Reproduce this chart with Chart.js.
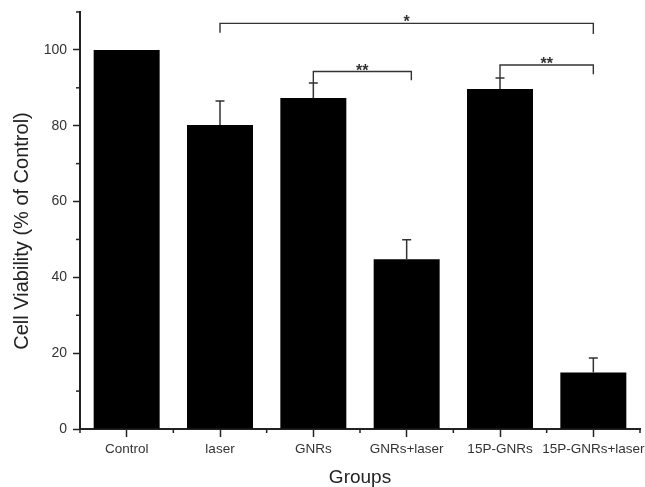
<!DOCTYPE html>
<html>
<head>
<meta charset="utf-8">
<script src="https://cdn.jsdelivr.net/npm/chart.js@4"></script>
<style>
  html, body { margin: 0; padding: 0; background: #fff; }
  #wrap { width: 645px; height: 487px; }
</style>
</head>
<body>
<div id="wrap"><canvas id="c" width="645" height="487"></canvas></div>
<script>
// ---- data ----
const categories = ['Control', 'laser', 'GNRs', 'GNRs+laser', '15P-GNRs', '15P-GNRs+laser'];
const viability = [100, 80.2, 87.3, 44.8, 89.7, 14.9];
const errorUp = [0, 6.3, 4.0, 5.1, 2.9, 3.8];
const yTickValues = [0, 20, 40, 60, 80, 100];
// significance brackets: [fromIndex, toIndex, level, leftDrop, rightDrop, label]
const bracketFrom = [1, 2, 4];
const bracketTo = [5, 3.05, 5];
const bracketLevel = [107, 94.3, 96.0];
const bracketLeftDrop = [104.5, 91.3, 92.6];
const bracketRightDrop = [104.2, 92.0, 93.6];
const bracketLabel = ['*', '**', '**'];

const FONT = "'Liberation Sans', Arial, sans-serif";
const INK = '#222';

const annotations = {
  id: 'annotations',
  afterDraw(chart) {
    const ctx = chart.ctx;
    const x = chart.scales.x, y = chart.scales.y;
    ctx.save();
    ctx.strokeStyle = INK;
    ctx.lineWidth = 1.5;
    // minor ticks on y axis
    const yLeft = chart.chartArea.left;
    for (let v = 10; v <= 110; v += 20) {
      const py = y.getPixelForValue(v);
      ctx.beginPath(); ctx.moveTo(yLeft - 4, py); ctx.lineTo(yLeft, py); ctx.stroke();
    }
    // minor ticks on x axis (category boundaries)
    const yb = chart.chartArea.bottom;
    for (let i = 0; i <= categories.length; i++) {
      const px = x.getPixelForValue(i - 0.5);
      ctx.beginPath(); ctx.moveTo(px, yb); ctx.lineTo(px, yb + 4); ctx.stroke();
    }
    // error bars (upper half)
    ctx.strokeStyle = '#333';
    ctx.lineWidth = 1.5;
    for (let i = 0; i < viability.length; i++) {
      if (!errorUp[i]) continue;
      const px = x.getPixelForValue(i);
      const p0 = y.getPixelForValue(viability[i]);
      const p1 = y.getPixelForValue(viability[i] + errorUp[i]);
      ctx.beginPath();
      ctx.moveTo(px, p0); ctx.lineTo(px, p1);
      ctx.moveTo(px - 4.5, p1); ctx.lineTo(px + 4.5, p1);
      ctx.stroke();
    }
    // brackets
    ctx.strokeStyle = '#333';
    ctx.lineWidth = 1.4;
    ctx.fillStyle = '#333';
    ctx.font = 'bold 16px ' + FONT;
    ctx.textAlign = 'center';
    ctx.textBaseline = 'alphabetic';
    for (let k = 0; k < bracketFrom.length; k++) {
      const xl = x.getPixelForValue(bracketFrom[k]);
      const xr = x.getPixelForValue(bracketTo[k]);
      const ly = y.getPixelForValue(bracketLevel[k]);
      ctx.beginPath();
      ctx.moveTo(xl, y.getPixelForValue(bracketLeftDrop[k]));
      ctx.lineTo(xl, ly);
      ctx.lineTo(xr, ly);
      ctx.lineTo(xr, y.getPixelForValue(bracketRightDrop[k]));
      ctx.stroke();
      ctx.fillText(bracketLabel[k], (xl + xr) / 2, ly - 5 + 0.57 * 16);
    }
    // y axis title
    ctx.fillStyle = INK;
    ctx.font = '20px ' + FONT;
    ctx.textBaseline = 'middle';
    ctx.translate(22, 231);
    ctx.rotate(-Math.PI / 2);
    ctx.fillText('Cell Viability (% of Control)', 0, 0);
    ctx.restore();
  }
};

new Chart(document.getElementById('c'), {
  type: 'bar',
  data: {
    labels: categories,
    datasets: [{
      data: viability,
      backgroundColor: '#000',
      borderWidth: 0,
      barPercentage: 0.707,
      categoryPercentage: 1.0
    }]
  },
  options: {
    responsive: false,
    devicePixelRatio: 1,
    animation: false,
    layout: { padding: { top: 12, right: 5, left: 0, bottom: 0 } },
    plugins: { legend: { display: false }, tooltip: { enabled: false } },
    scales: {
      x: {
        type: 'category',
        offset: true,
        grid: { drawOnChartArea: false, drawTicks: true, tickLength: 8, tickColor: INK, tickWidth: 1.5, offset: false },
        border: { display: true, color: INK, width: 2 },
        ticks: { color: '#333', padding: 4, font: { family: FONT, size: 13.5 }, maxRotation: 0, autoSkip: false },
        title: { display: true, text: 'Groups', color: INK, font: { family: FONT, size: 19, lineHeight: 1 }, padding: { top: 0, bottom: 0 } },
        afterFit(s) { s.height = 58; s.paddingLeft = 0; s.paddingRight = 0; }
      },
      y: {
        min: 0,
        max: 110,
        grid: {
          drawOnChartArea: false, drawTicks: true, tickLength: 7, tickWidth: 1.5,
          tickColor: c => (yTickValues.includes(c.tick.value) ? INK : 'rgba(0,0,0,0)')
        },
        border: { display: true, color: INK, width: 2 },
        ticks: {
          stepSize: 10,
          color: '#333',
          padding: 6,
          font: { family: FONT, size: 14 },
          callback: v => (yTickValues.includes(v) ? String(v) : '')
        },
        afterFit(s) { s.width = 80; s.paddingTop = 0; s.paddingBottom = 0; }
      }
    }
  },
  plugins: [annotations]
});
</script>
</body>
</html>
